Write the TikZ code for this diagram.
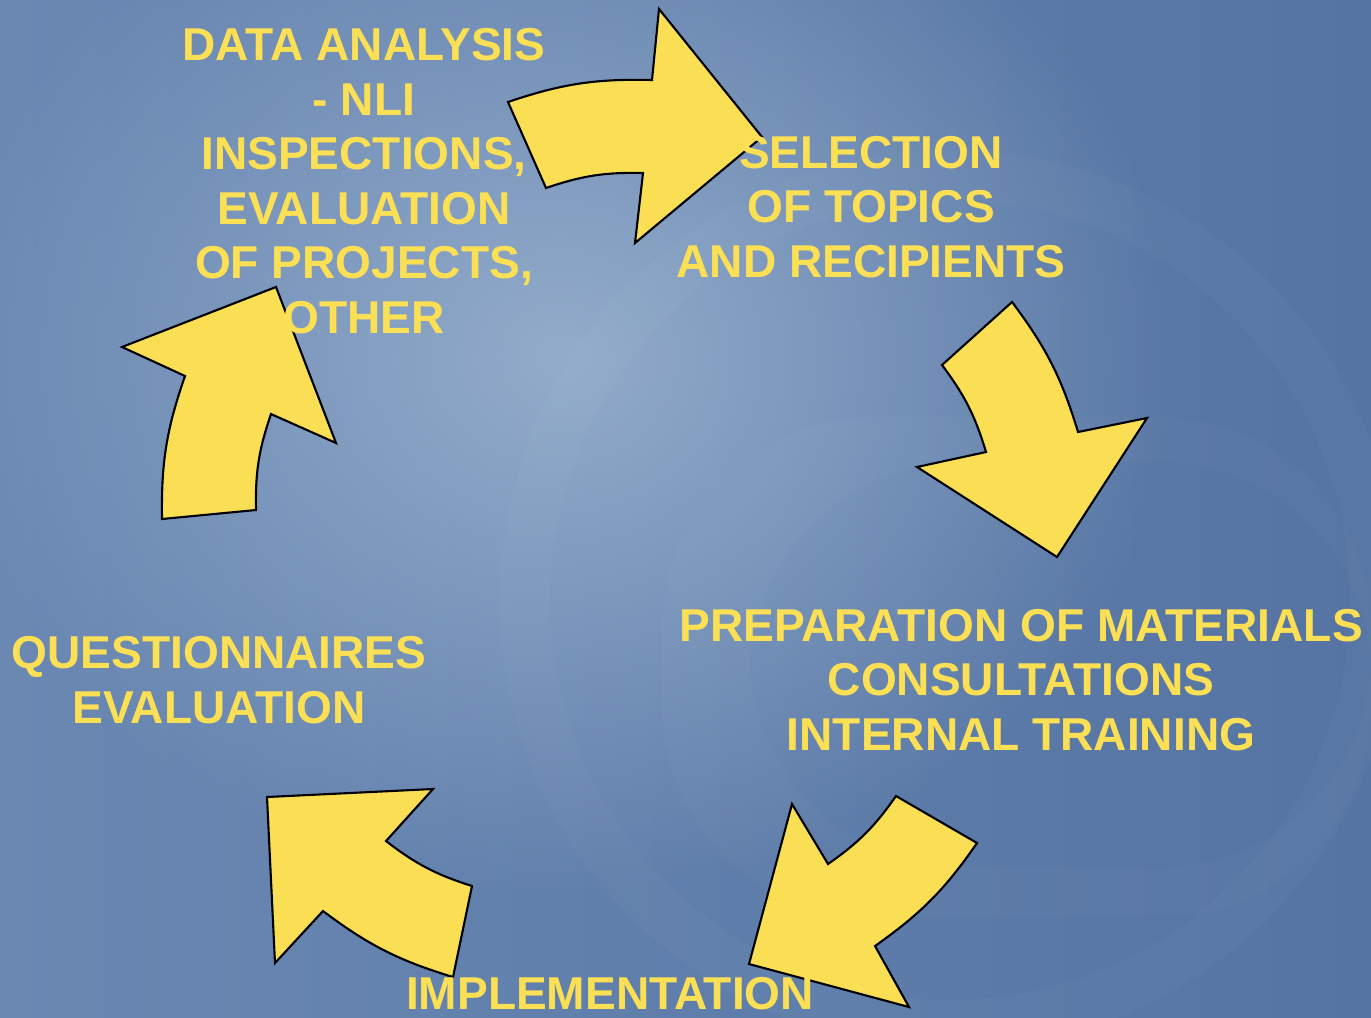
\documentclass[tikz,border=0pt]{standalone}
\usepackage{fontspec}
\setmainfont{Liberation Sans}
\usepackage{xcolor}
\definecolor{bgLeft}{HTML}{6A88B2}
\definecolor{bgRight}{HTML}{5574A3}
\definecolor{bgGlow}{HTML}{93ACCB}
\definecolor{stageYellow}{HTML}{FBDF55}
\definecolor{arrowYellow}{HTML}{FADF55}
\usetikzlibrary{fadings}
\tikzfading[name=glowfade, inner color=transparent!0, outer color=transparent!100]

\begin{document}
\begin{tikzpicture}[x=0.01cm, y=0.01cm,
    stage/.style={text=stageYellow, font=\fontsize{13.1}{15.5}\selectfont\bfseries, align=center, inner sep=0pt},
    cyclearrow/.style={fill=arrowYellow, draw=black, line width=0.6pt}]
  \useasboundingbox (0,0) rectangle (1371,1017);
  \shade[left color=bgLeft, right color=bgRight] (0,0) rectangle (1371,1017);
  \fill[bgGlow, path fading=glowfade] (560,660) ellipse (620 and 540);
  \fill[white, opacity=0.025, even odd rule] (950,417) circle (450) (950,417) circle (400);
  \fill[white, opacity=0.02, even odd rule, rounded corners=60] (662,100) rectangle (1371,600) (750,150) rectangle (1371,555);
  \filldraw[cyclearrow] (508,915) to[bend left=10] (652,937) -- (659,1008) -- (762,880) -- (635,774) -- (643,844) to[bend right=10] (546,829) -- cycle;
  \filldraw[cyclearrow] (1012,715) to[bend left=10] (1078,585) -- (1147,599) -- (1057,460) -- (917,550) -- (986,565) to[bend right=10] (942,652) -- cycle;
  \filldraw[cyclearrow] (896,221) to[bend left=10] (828,153) -- (792,213) -- (749,53) -- (909,10) -- (875,71) to[bend right=10] (977,174) -- cycle;
  \filldraw[cyclearrow] (267,220) -- (433,228) -- (386,176) to[bend right=10] (472,131) -- (453,40) to[bend left=10] (323,106) -- (275,54) -- cycle;
  \filldraw[cyclearrow] (162,498) -- (256,507) to[bend left=10] (271,603) -- (336,574) -- (276,730) -- (122,670) -- (185,641) to[bend right=10] cycle;
  \node[stage] (analysis) at (364,836) {DATA ANALYSIS\\- NLI\\INSPECTIONS,\\EVALUATION\\OF PROJECTS,\\OTHER};
  \node[stage] (selection) at (871,810) {SELECTION\\OF TOPICS\\AND RECIPIENTS};
  \node[stage] (preparation) at (1021,337) {PREPARATION OF MATERIALS\\CONSULTATIONS\\INTERNAL TRAINING};
  \node[stage] (questionnaires) at (219,337) {QUESTIONNAIRES\\EVALUATION};
  \node[stage] (implementation) at (610,23) {IMPLEMENTATION};
\end{tikzpicture}
\end{document}
